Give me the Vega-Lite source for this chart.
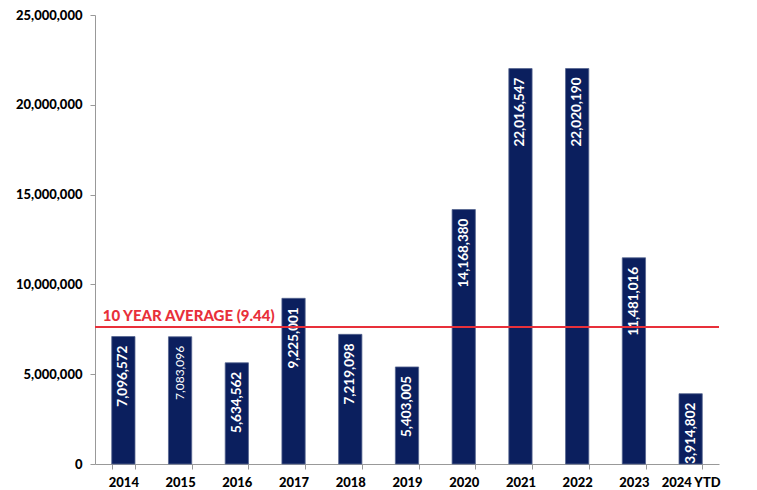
{
  "$schema": "https://vega.github.io/schema/vega-lite/v6.json",
  "width": 624,
  "height": 449,
  "autosize": "none",
  "padding": {"left": 95, "top": 15, "right": 38, "bottom": 26},
  "background": "white",
  "config": {"view": {"stroke": null}, "font": "Lato"},
  "datasets": {
    "bars": [
      {"year": "2014", "value": 7096572},
      {"year": "2015", "value": 7083096},
      {"year": "2016", "value": 5634562},
      {"year": "2017", "value": 9225001},
      {"year": "2018", "value": 7219098},
      {"year": "2019", "value": 5403005},
      {"year": "2020", "value": 14168380},
      {"year": "2021", "value": 22016547},
      {"year": "2022", "value": 22020190},
      {"year": "2023", "value": 11481016},
      {"year": "2024 YTD", "value": 3914802}
    ],
    "avg": [{"start": "2014", "value": 7630000, "label": "10 YEAR AVERAGE (9.44)"}]
  },
  "layer": [
    {
      "data": {"name": "bars"},
      "mark": {"type": "bar", "color": "#0b1f5e", "stroke": "#56648f", "strokeWidth": 0.8},
      "encoding": {
        "x": {
          "field": "year", "type": "nominal", "sort": null,
          "scale": {"paddingInner": 0.59, "paddingOuter": 0.295},
          "axis": {
            "title": null, "labelAngle": 0, "labelFont": "Lato", "labelFontWeight": 900,
            "labelFontSize": 13, "labelColor": "#000", "labelPadding": 7,
            "domainColor": "#999", "tickColor": "#999", "tickBand": "extent", "tickSize": 5
          }
        },
        "y": {
          "field": "value", "type": "quantitative",
          "scale": {"domain": [0, 25000000], "nice": false},
          "axis": {
            "title": null, "values": [0, 5000000, 10000000, 15000000, 20000000, 25000000],
            "format": ",d", "grid": false, "labelFont": "Lato", "labelFontWeight": 900,
            "labelFontSize": 13, "labelColor": "#000", "labelPadding": 8,
            "domainColor": "#999", "tickColor": "#999", "tickSize": 5
          }
        }
      }
    },
    {
      "data": {"name": "bars"},
      "transform": [{"filter": "datum.year !== '2015'"}],
      "mark": {"type": "text", "angle": -90, "align": "right", "baseline": "middle", "dx": -9, "color": "white", "font": "Lato", "fontSize": 13.5, "fontWeight": "bold"},
      "encoding": {
        "x": {"field": "year", "type": "nominal", "sort": null},
        "y": {"field": "value", "type": "quantitative"},
        "text": {"field": "value", "type": "quantitative", "format": ",d"}
      }
    },
    {
      "data": {"name": "bars"},
      "transform": [{"filter": "datum.year === '2015'"}],
      "mark": {"type": "text", "angle": -90, "align": "right", "baseline": "middle", "dx": -9, "color": "white", "font": "Lato", "fontSize": 12, "fontWeight": "normal"},
      "encoding": {
        "x": {"field": "year", "type": "nominal", "sort": null},
        "y": {"field": "value", "type": "quantitative"},
        "text": {"field": "value", "type": "quantitative", "format": ",d"}
      }
    },
    {
      "data": {"name": "avg"},
      "mark": {"type": "rule", "color": "#e8303a", "strokeWidth": 2},
      "encoding": {"y": {"field": "value", "type": "quantitative"}}
    },
    {
      "data": {"name": "avg"},
      "mark": {"type": "text", "align": "left", "baseline": "alphabetic", "dy": -6, "dx": -9, "color": "#e8303a", "fontSize": 15, "fontWeight": 900, "font": "Lato"},
      "encoding": {
        "x": {"field": "start", "type": "nominal", "bandPosition": 0},
        "y": {"field": "value", "type": "quantitative"},
        "text": {"field": "label"}
      }
    }
  ]
}
